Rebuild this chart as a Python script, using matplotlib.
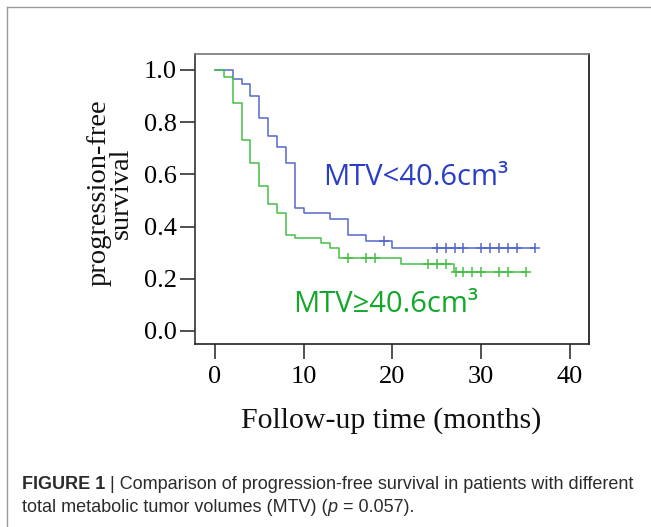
import matplotlib
matplotlib.use("Agg")
import matplotlib.pyplot as plt
from matplotlib.lines import Line2D

# ---- data ----
blue_times = [0, 2, 3, 4, 5, 6, 7, 8, 9, 10, 13, 15, 17, 20, 36]
blue_surv = [1.0, 0.965, 0.945, 0.90, 0.815, 0.748, 0.706, 0.642, 0.472, 0.451, 0.429, 0.368, 0.345, 0.319, 0.319]
blue_censor_t = [19, 25, 26, 27, 28, 30, 31, 32, 33, 34, 36]
blue_censor_s = [0.345, 0.319, 0.319, 0.319, 0.319, 0.319, 0.319, 0.319, 0.319, 0.319, 0.319]

green_times = [0, 1, 2, 3, 4, 5, 6, 7, 8, 9, 12, 13, 14, 21, 26.9, 35]
green_surv = [1.0, 0.971, 0.872, 0.732, 0.642, 0.556, 0.487, 0.451, 0.368, 0.355, 0.336, 0.317, 0.279, 0.257, 0.227, 0.227]
green_censor_t = [15, 17, 18, 24, 25, 26, 27.2, 28, 29, 30, 32, 33, 35]
green_censor_s = [0.279, 0.279, 0.279, 0.257, 0.257, 0.257, 0.227, 0.227, 0.227, 0.227, 0.227, 0.227, 0.227]

x_ticks = [0, 10, 20, 30, 40]
y_ticks = [0.0, 0.2, 0.4, 0.6, 0.8, 1.0]
y_ticklabels = ["0.0", "0.2", "0.4", "0.6", "0.8", "1.0"]
label_blue = "MTV<40.6cm³"
label_green = "MTV≥40.6cm³"
xlabel = "Follow-up time (months)"
ylabel = "progression-free\nsurvival"
caption_bold = "FIGURE 1"
caption_line1 = " | Comparison of progression-free survival in patients with different"
caption_line2 = "total metabolic tumor volumes (MTV) ("

W, H = 651, 527
fig = plt.figure(figsize=(W / 100, H / 100), dpi=100)
fig.patch.set_facecolor("white")

# outer frame lines (top & left)
fig.add_artist(Line2D([7 / W, 1.0], [1 - 6.5 / H, 1 - 6.5 / H], transform=fig.transFigure,
                      color="#9a9a9a", lw=1.0))
fig.add_artist(Line2D([7 / W, 7 / W], [0, 1 - 6.5 / H], transform=fig.transFigure,
                      color="#9a9a9a", lw=1.0))

left, right, top, bottom = 195, 589, 54, 344
ax = fig.add_axes([left / W, 1 - bottom / H, (right - left) / W, (bottom - top) / H])

blue_line = "#5468cc"
green_line = "#45bf45"
blue_text = "#2a3ec4"
green_text = "#14a82a"

ax.step(blue_times, blue_surv, where="post", color=blue_line, lw=1.1)
ax.step(green_times, green_surv, where="post", color=green_line, lw=1.1)
ax.plot(blue_censor_t, blue_censor_s, ls="none", marker="+", ms=7, mew=1.1, color=blue_line)
ax.plot(green_censor_t, green_censor_s, ls="none", marker="+", ms=7, mew=1.1, color=green_line)

ax.set_xlim(-2.25, 42.14)
ax.set_ylim(-0.05, 1.061)

serif = ["Liberation Serif", "DejaVu Serif"]
ax.set_xticks(x_ticks)
ax.set_xticklabels([str(t) for t in x_ticks], fontfamily=serif, fontsize=19)
ax.set_yticks(y_ticks)
ax.set_yticklabels(y_ticklabels, fontfamily=serif, fontsize=19)
ax.tick_params(axis="x", direction="out", length=11, width=1.1, pad=5, color="#222222")
ax.tick_params(axis="y", direction="out", length=11, width=1.1, pad=2, color="#222222")
for s in ax.spines.values():
    s.set_linewidth(1.2)
ax.spines["top"].set_color("#777777")
ax.spines["left"].set_color("#333333")
ax.spines["bottom"].set_color("#222222")
ax.spines["right"].set_color("#111111")

sans = ["Open Sans", "DejaVu Sans"]
ax.text(12.2, 0.559, label_blue, color=blue_text, fontsize=21, fontfamily=sans,
        ha="left", va="baseline")
ax.text(8.75, 0.074, label_green, color=green_text, fontsize=21, fontfamily=sans,
        ha="left", va="baseline")

fig.text(391.5 / W, 1 - 428 / H, xlabel, fontfamily=serif, fontsize=21.5,
         ha="center", va="baseline", color="#111111")
fig.text(110 / W, 1 - 193 / H, ylabel, fontfamily=serif, fontsize=20.5, rotation=90,
         ha="center", va="center", multialignment="center", linespacing=0.85, color="#111111")

cap = ["Liberation Sans", "DejaVu Sans"]
cs = 13
ccol = "#2b2b2b"
t1 = fig.text(22 / W, 1 - 489 / H, caption_bold, fontfamily=cap, fontsize=cs,
              fontweight="bold", color=ccol, ha="left", va="baseline")
fig.canvas.draw()
bb = t1.get_window_extent()
fig.text(bb.x1 / W, 1 - 489 / H, caption_line1, fontfamily=cap, fontsize=cs,
         color=ccol, ha="left", va="baseline")
t3 = fig.text(22 / W, 1 - 512 / H, caption_line2, fontfamily=cap, fontsize=cs,
              color=ccol, ha="left", va="baseline")
fig.canvas.draw()
bb3 = t3.get_window_extent()
t4 = fig.text(bb3.x1 / W, 1 - 512 / H, "p", fontfamily=cap, fontsize=cs,
              fontstyle="italic", color=ccol, ha="left", va="baseline")
fig.canvas.draw()
bb4 = t4.get_window_extent()
fig.text(bb4.x1 / W, 1 - 512 / H, " = 0.057).", fontfamily=cap, fontsize=cs,
         color=ccol, ha="left", va="baseline")

fig.savefig("out.png", dpi=100, facecolor="white")
